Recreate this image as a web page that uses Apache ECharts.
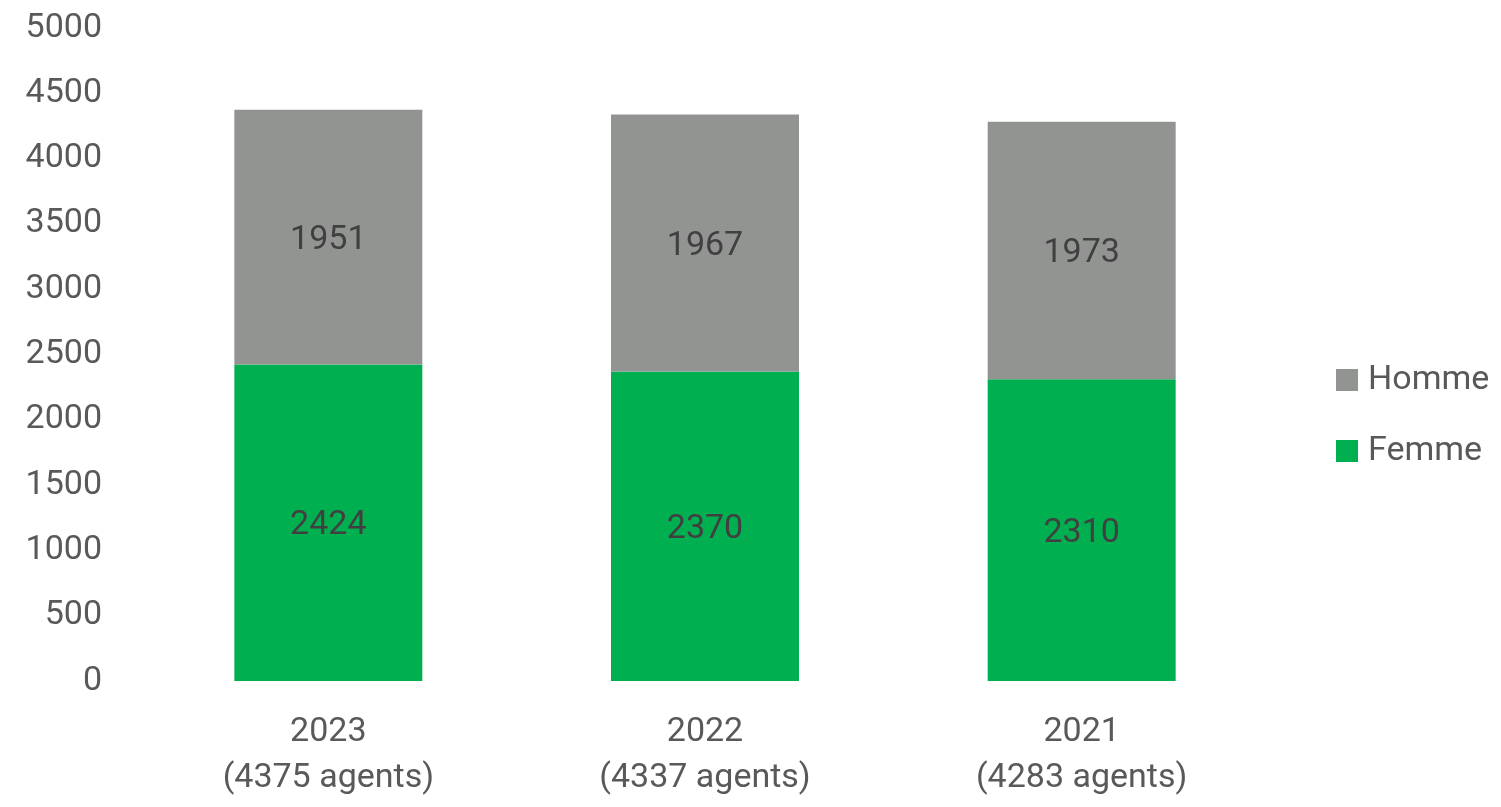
<!DOCTYPE html>
<html><head><meta charset="utf-8">
<script src="https://cdn.jsdelivr.net/npm/echarts@6/dist/echarts.min.js"></script>
<style>html,body{margin:0;padding:0;background:#fff}#c{width:1501px;height:807px}</style>
</head><body><div id="c"></div>
<script>
const categories = ['2023\n(4375 agents)', '2022\n(4337 agents)', '2021\n(4283 agents)'];
const femme = [2424, 2370, 2310];
const homme = [1951, 1967, 1973];
const yTicks = {min: 0, max: 5000, interval: 500};

const FONT = 'Roboto';
const chart = echarts.init(document.getElementById('c'));
chart.setOption({
  animation: false,
  backgroundColor: '#ffffff',
  grid: {left: 140, right: 231, top: 28, bottom: 126, containLabel: false},
  legend: {
    orient: 'vertical', left: 1331, top: 358,
    data: ['Homme', 'Femme'],
    icon: 'rect', itemWidth: 22, itemHeight: 22, itemGap: 37,
    textStyle: {fontFamily: FONT, fontSize: 34, color: '#595959', padding: [0, 0, 0, 5]}
  },
  xAxis: {
    type: 'category', data: categories,
    axisLine: {show: false}, axisTick: {show: false},
    axisLabel: {fontFamily: FONT, fontSize: 34, color: '#595959', lineHeight: 46, margin: 28}
  },
  yAxis: {
    type: 'value', min: yTicks.min, max: yTicks.max, interval: yTicks.interval,
    splitLine: {show: false}, axisLine: {show: false}, axisTick: {show: false},
    axisLabel: {fontFamily: FONT, fontSize: 34, color: '#595959', margin: 38,
      formatter: function (v) { return String(v); }}
  },
  series: [
    {name: 'Femme', type: 'bar', stack: 't', data: femme, barWidth: 188,
     itemStyle: {color: '#00B050'},
     label: {show: true, position: 'inside', offset: [0, 3], fontFamily: FONT, fontSize: 34, color: '#404040'}},
    {name: 'Homme', type: 'bar', stack: 't', data: homme, barWidth: 188,
     itemStyle: {color: '#929492'},
     label: {show: true, position: 'inside', offset: [0, 3], fontFamily: FONT, fontSize: 34, color: '#404040'}}
  ]
});
</script></body></html>
